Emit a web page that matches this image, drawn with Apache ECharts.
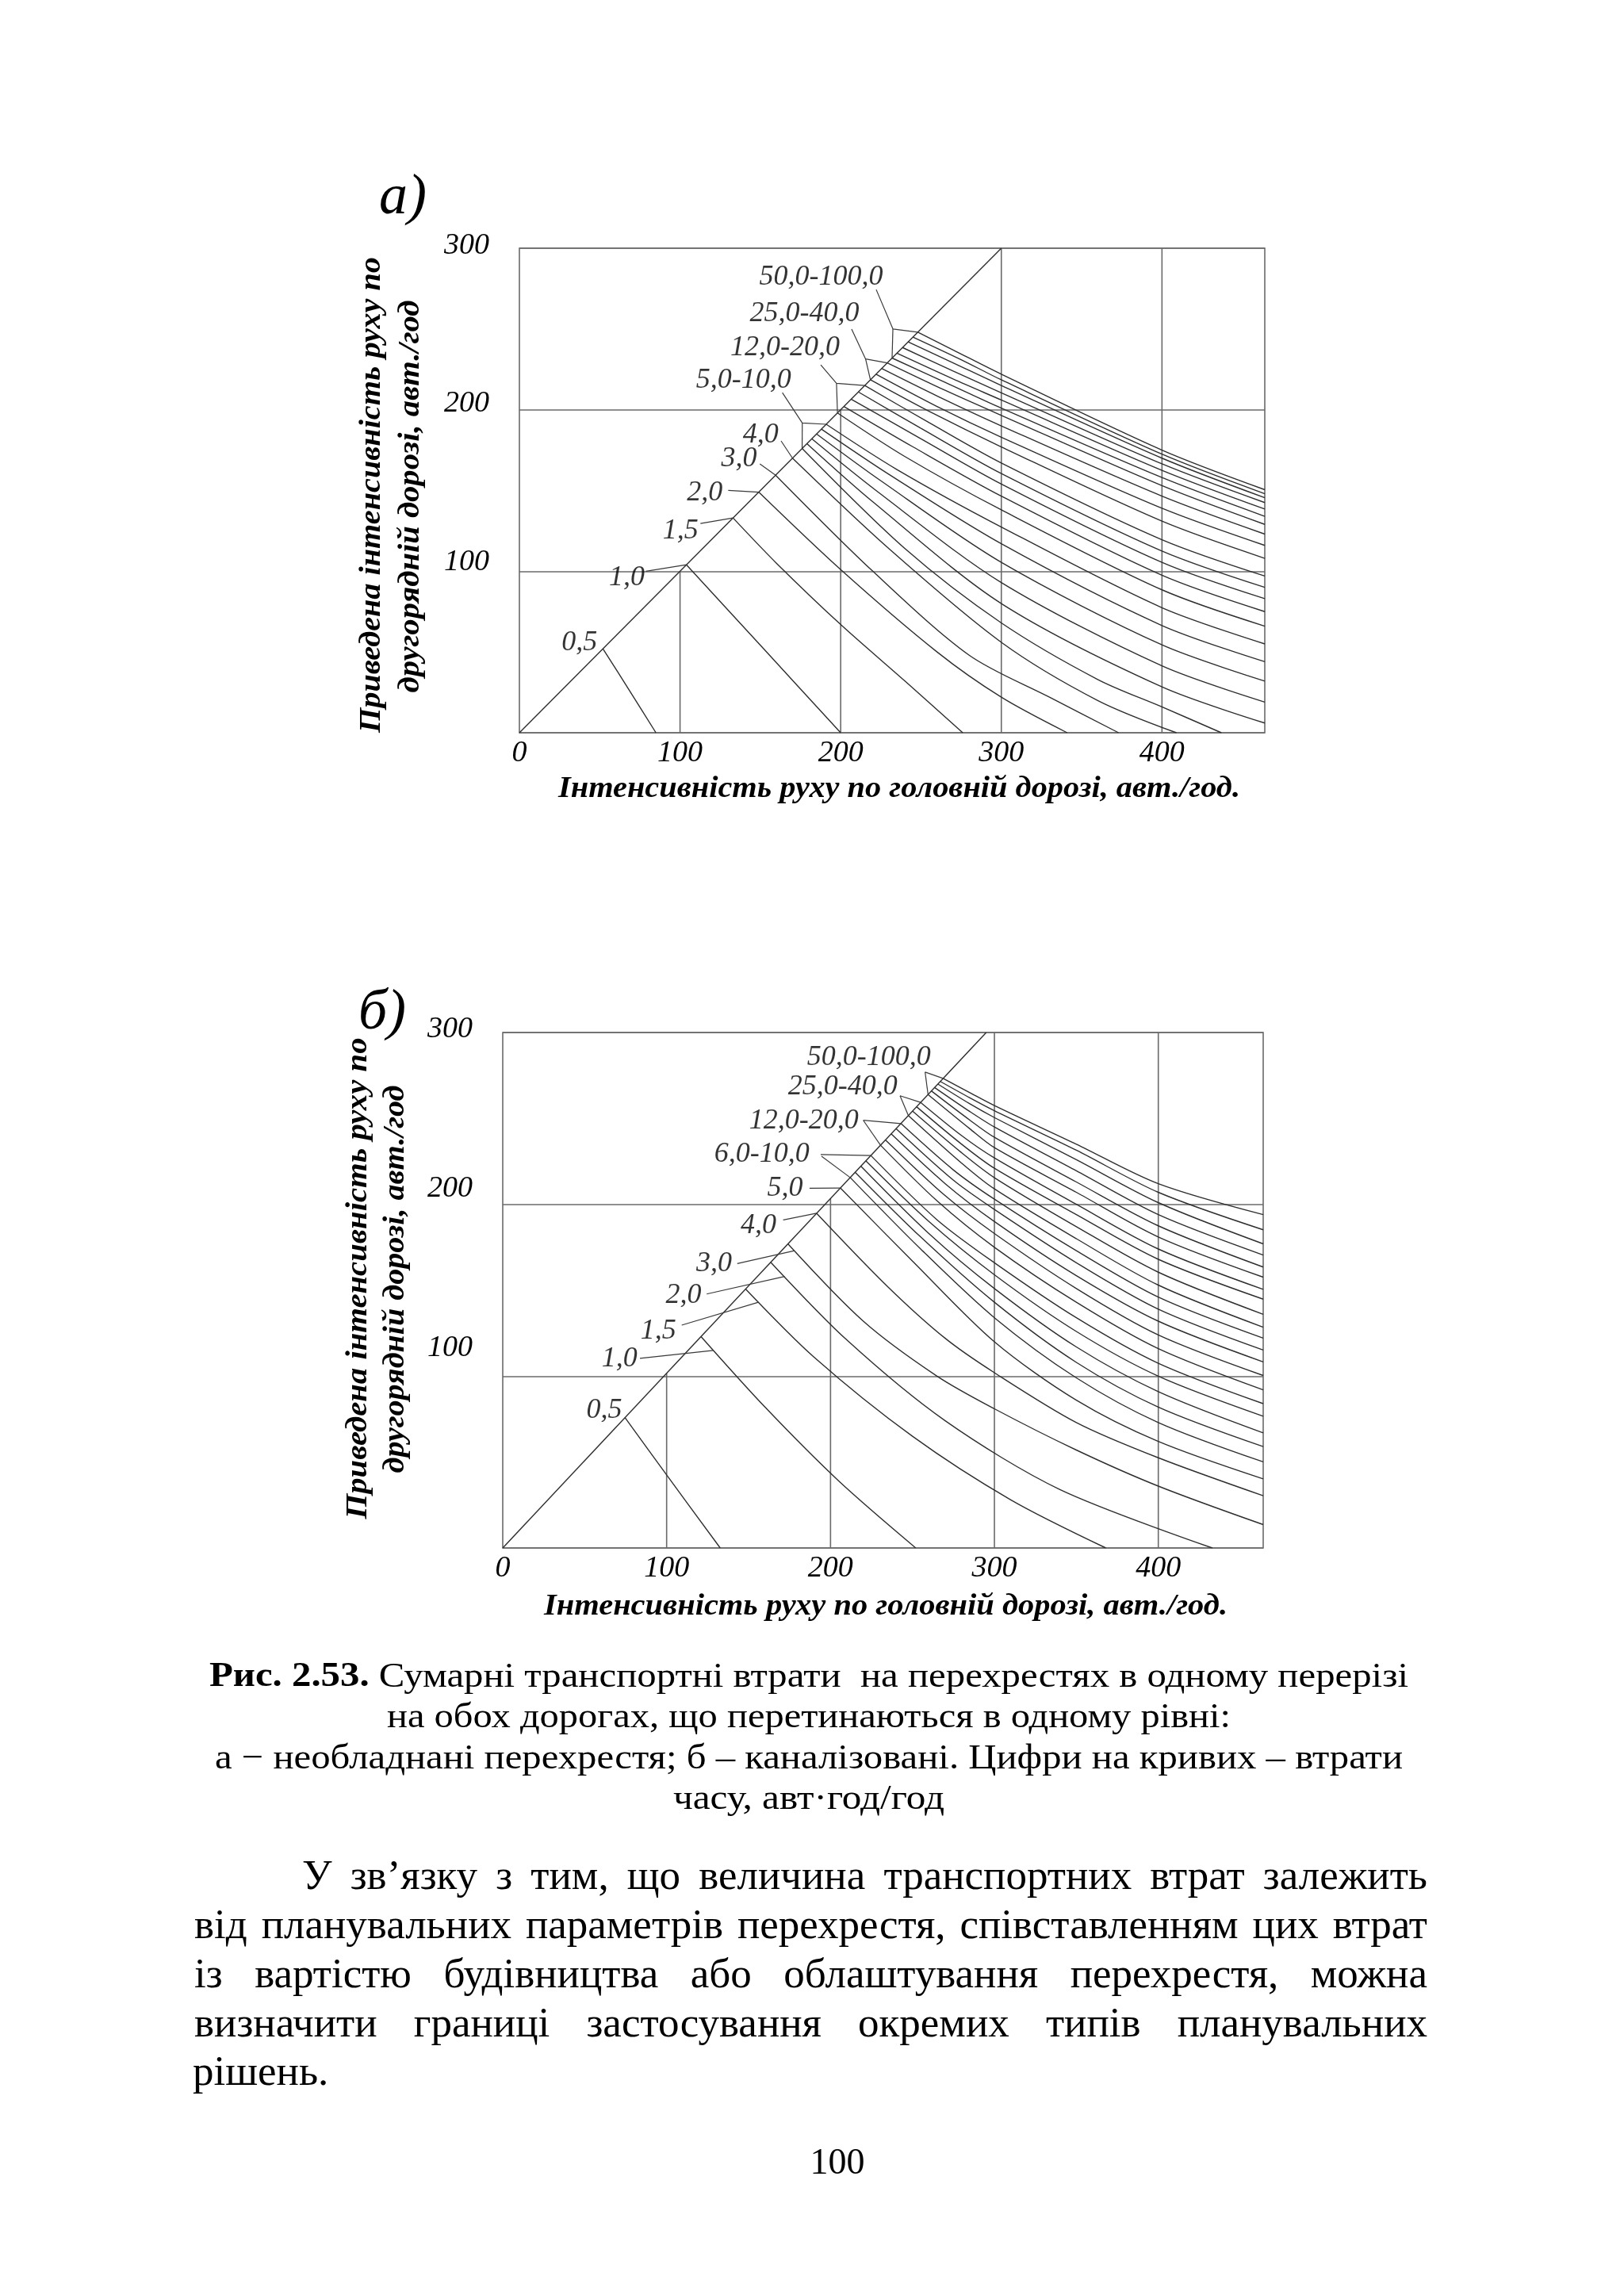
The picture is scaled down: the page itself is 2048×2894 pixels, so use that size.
<!DOCTYPE html>
<html><head><meta charset="utf-8">
<script src="https://cdn.jsdelivr.net/npm/echarts@6/dist/echarts.min.js"></script>
<style>html,body{margin:0;padding:0;background:#fff}#c{width:2048px;height:2894px}</style>
</head><body><div id="c"></div>
<script>
// ---------- data ----------
const xTicks = [0, 100, 200, 300, 400];
const yTicks = [100, 200, 300];
const xMax = 464;
const yMax = 300;

// Chart а (unequipped intersections)
const aCurveNames = ['0,5','1,0','1,5','2,0','3,0','4,0','5,0','6,0','7,0','8,0','9,0','10,0','12,0','14,0','16,0','18,0','20,0','25,0','30,0','35,0','40,0','50,0','60,0','70,0','80,0','90,0','100,0'];
const aCurves = [
 [[52,52],[68,27],[85,0]],
 [[104,104],[152,52],[200,0]],
 [[133,133],[160,105],[200,67],[240,32],[276,0]],
 [[149,149],[200,101],[260,50],[300,22],[341,0]],
 [[159.5,159.5],[220,100],[280,48],[330,22],[373,0]],
 [[170,170],[230,114],[300,56],[360,20],[409,0]],
 [[176,176],[240,114],[300,68],[360,33],[400,16],[437,0]],
 [[179,179],[220,143],[300,80],[400,28.4],[464,6]],
 [[182,182],[222,150],[300,93],[400,41.4],[464,19]],
 [[185,185],[225,156],[300,105.5],[400,54.4],[464,32]],
 [[188,188],[230,160],[300,117],[400,66.4],[464,44]],
 [[191,191],[235,163],[300,127.4],[400,77.4],[464,55]],
 [[198,198],[240,171],[300,138],[400,88.5],[464,66]],
 [[202,202],[245,177],[300,146.5],[400,97.5],[464,75]],
 [[206.5,206.5],[250,182],[300,154],[400,105.5],[464,83]],
 [[211,211],[250,188.5],[300,160.5],[400,112.5],[464,90]],
 [[215,215],[255,192],[300,167],[400,119.5],[464,97]],
 [[218.5,218.5],[255,199],[300,177],[400,131],[464,108]],
 [[222,222],[260,202],[300,183],[400,139],[464,116]],
 [[225.5,225.5],[260,208.5],[300,190],[400,146.5],[464,123]],
 [[229,229],[265,212],[300,196.5],[400,153],[464,129]],
 [[232,232],[265,217],[300,201],[400,158],[464,134]],
 [[235,235],[270,219],[300,206],[400,162.5],[464,138.5]],
 [[238.5,238.5],[270,224],[300,210.5],[400,166.5],[464,142.5]],
 [[242,242],[270,229],[300,215],[400,170],[464,145.5]],
 [[245,245],[275,231],[300,218.5],[400,172.5],[464,148]],
 [[248,248],[270,237],[300,222],[400,175],[464,150.5]]
];
const aDiagonal = [[0,0],[300,300]];
const aVGrid = [[[100,0],[100,100]],[[200,0],[200,200]],[[300,0],[300,300]],[[400,0],[400,300]]];
const aLabels = [
 ['50,0-100,0',227.1,282.1],['25,0-40,0',212.2,259.7],['12,0-20,0',200.2,238.4],['5,0-10,0',169.9,218],
 ['4,0',162,184.4],['3,0',148.6,169.7],['2,0',127.2,148.4],['1,5',112.2,124.8],['1,0',78.7,96],['0,5',49.2,55.6]
];
const aLeaders = [
 [[222.1,274.4],[232.5,250],[248,248]],[[232.5,250],[232,232]],
 [[206.8,249.9],[215.5,231.4],[229,229]],[[215.5,231.4],[218.5,218.5]],
 [[187.6,227.8],[197.4,216.3],[215,215]],[[197.4,216.3],[198,198]],
 [[163.7,210.6],[176.1,191.8],[191,191]],[[176.1,191.8],[176,176]],
 [[162.9,180.7],[170,170]],[[149.7,166.4],[159.5,159.5]],[[130,150.1],[149,149]],
 [[112.7,129.6],[133,133]],[[78.7,100],[104,104]]
];

// Chart б (channelized intersections)
const bCurveNames = ['0,5','1,0','1,5','2,0','3,0','4,0','5,0','6,0','7,0','8,0','9,0','10,0','12,0','14,0','16,0','18,0','20,0','25,0','30,0','35,0','40,0','50,0','60,0','70,0','80,0','90,0','100,0'];
const bCurves = [
 [[74.6,75.9],[100,42.5],[132.7,0]],
 [[121,123],[160,82],[205,39],[252,0]],
 [[148.2,150.7],[190,111],[250,65],[310,28],[368,0]],
 [[163.5,166.3],[210,121],[270,74],[340,34],[433,0]],
 [[174,177],[220,132],[265,100],[300,81],[350,57],[400,36],[464,13.6]],
 [[191.5,194.8],[235,152],[270,122],[300,102],[350,73],[400,52.5],[464,30.4]],
 [[206,209.5],[250,167],[300,120],[350,86],[400,62],[464,40.2]],
 [[212,215.6],[255,174],[300,134],[350,99],[400,73],[464,50.1]],
 [[215,218.7],[255,181],[300,143],[350,108],[400,82],[464,59]],
 [[218.5,222.2],[260,183],[300,151],[350,117],[400,91],[464,67]],
 [[221.5,225.3],[260,190],[300,159],[350,126],[400,100],[464,76.7]],
 [[224.6,228.4],[265,191],[300,166],[350,134],[400,107.5],[464,84]],
 [[230.5,234.4],[265,202],[300,175],[350,143],[400,116],[464,92]],
 [[233.5,237.5],[270,205],[300,183],[350,151],[400,124],[464,100.4]],
 [[237,241],[270,212],[300,190],[350,158.5],[400,132],[464,108.3]],
 [[240,244],[275,214],[300,197],[350,166],[400,139],[464,115.2]],
 [[243,247],[275,220],[300,203],[350,173],[400,146],[464,122.1]],
 [[247.5,251.7],[280,224],[300,209],[350,180],[400,153],[464,128.5]],
 [[250,254.3],[280,230],[300,215.5],[350,187],[400,160.5],[464,136]],
 [[252.5,256.8],[280,235],[300,221],[350,194],[400,168],[464,144.8]],
 [[255,259.3],[280,240],[300,227],[350,200],[400,174],[464,150.5]],
 [[259.5,263.9],[285,244],[300,233],[350,207],[400,181],[464,157.6]],
 [[261.5,266],[285,249],[300,239],[350,213],[400,187.5],[464,163.5]],
 [[263.5,268],[285,254],[300,245],[350,219.5],[400,194],[464,170.5]],
 [[265.5,270],[285,258.5],[300,250.5],[350,226],[400,201],[464,177]],
 [[267,271.5],[285,262],[300,254.5],[350,231.5],[400,207],[464,185.2]],
 [[268.7,273.3],[285,265],[300,257.5],[350,235],[400,212],[464,194]]
];
const bDiagonal = [[0,0],[295,300]];
const bVGrid = [[[100,0],[100,101.7]],[[200,0],[200,203.4]],[[300,0],[300,300]],[[400,0],[400,300]]];
const bLabels = [
 ['50,0-100,0',261.9,285.5],['25,0-40,0',241.6,268.6],['12,0-20,0',217.8,248.6],['6,0-10,0',187.8,229.3],
 ['5,0',183.8,209.4],['4,0',167.7,187.8],['3,0',140.6,165.5],['2,0',121.9,147],['1,5',106.6,126.3],['1,0',82.9,110.1],['0,5',73.5,80]
];
const bLeaders = [
 [[257.7,277],[268.7,273.3]],[[257.7,277],[259.5,263.9]],
 [[242.4,263.2],[255,259.3]],[[242.4,263.2],[247.5,251.7]],
 [[220,248.9],[243,247]],[[220,248.9],[230.5,234.4]],
 [[194,229],[224.6,228.4]],[[194.5,228],[212,215.6]],
 [[187.2,209.4],[206,209.5]],[[171.1,190.9],[191.5,194.8]],
 [[143.1,165.5],[178,173]],[[124.4,147.8],[172,158]],
 [[109.2,129.7],[156,143]],[[83.7,110.4],[128.5,115]]
];

// texts
const xTitle = 'Інтенсивність руху по головній дорозі, авт./год.';
const yTitle1 = 'Приведена інтенсивність руху по';
const yTitle2 = 'другорядній дорозі, авт./год';
const panelA = 'а)';
const panelB = 'б)';
const captionBold = 'Рис. 2.53.';
const captionLines = [
  ' Сумарні транспортні втрати  на перехрестях в одному перерізі',
  'на обох дорогах, що перетинаються в одному рівні:',
  'а − необладнані перехрестя; б – каналізовані. Цифри на кривих – втрати',
  'часу, авт·год/год'
];
const paragraphLines = [
  'У зв’язку з тим, що величина транспортних втрат залежить',
  'від планувальних параметрів перехрестя, співставленням цих втрат',
  'із вартістю будівництва або облаштування перехрестя, можна',
  'визначити границі застосування окремих типів планувальних',
  'рішень.'
];
const pageNumber = '100';

// ---------- styling / layout ----------
const FONT = '"Liberation Serif", "Times New Roman", serif';
const CURVE_COLOR = '#2e2e2e';
const GRID_COLOR = '#6a6a6a';
const TICK_FONT = 38;
const yLiftA = {100: 11, 200: 8, 300: 3};
const yLiftB = {100: 35, 200: 20, 300: 4};

const chart = echarts.init(document.getElementById('c'), null, {renderer: 'canvas', width: 2048, height: 2894});

function mkX(gi) {
  return {
    type: 'value', gridIndex: gi, min: 0, max: xMax, interval: 100,
    axisLine: {show: false}, axisTick: {show: false}, splitLine: {show: false},
    axisLabel: {
      margin: 7, fontFamily: FONT, fontStyle: 'italic', fontSize: TICK_FONT, color: '#000',
      formatter: v => (xTicks.indexOf(v) >= 0 ? String(v) : '')
    }
  };
}
function mkY(gi, lift) {
  const rich = {};
  yTicks.forEach(v => {
    rich['s' + v] = {fontFamily: FONT, fontStyle: 'italic', fontSize: TICK_FONT, color: '#000', padding: [0, 0, 2 * lift[v], 0]};
  });
  return {
    type: 'value', gridIndex: gi, min: 0, max: yMax, interval: 100,
    axisLine: {show: false}, axisTick: {show: false},
    splitLine: {show: true, lineStyle: {color: GRID_COLOR, width: 1.6}},
    axisLabel: {
      margin: 38, fontFamily: FONT, fontStyle: 'italic', fontSize: TICK_FONT, color: '#000',
      formatter: v => (yTicks.indexOf(v) >= 0 ? '{s' + v + '|' + v + '}' : ''),
      rich: rich
    }
  };
}
function lineSeries(data, gi, color, width, smooth, z) {
  return {
    type: 'line', xAxisIndex: gi, yAxisIndex: gi, data: data, showSymbol: false, symbol: 'none',
    smooth: smooth,
    lineStyle: {color: color, width: width}, silent: true, animation: false, z: z
  };
}
function buildChartSeries(gi, curves, diag, vgrid, leaders, labels) {
  const s = [];
  vgrid.forEach(g => s.push(lineSeries(g, gi, GRID_COLOR, 1.6, false, 1)));
  s.push(lineSeries(diag, gi, CURVE_COLOR, 1.4, false, 3));
  curves.forEach(c => s.push(lineSeries(c, gi, CURVE_COLOR, 1.4, 0.3, 3)));
  leaders.forEach(l => s.push(lineSeries(l, gi, '#3a3a3a', 1.2, false, 4)));
  s.push({
    type: 'scatter', xAxisIndex: gi, yAxisIndex: gi, symbolSize: 1, silent: true, animation: false, z: 5,
    itemStyle: {color: 'rgba(0,0,0,0)'},
    data: labels.map(l => ({name: l[0], value: [l[1], l[2]]})),
    label: {show: true, position: 'left', distance: 1, formatter: '{b}', fontFamily: FONT, fontStyle: 'italic', fontSize: 36, color: '#000'}
  });
  return s;
}

// ---------- text helpers ----------
const mctx = document.createElement('canvas').getContext('2d');
function tw(text, font) { mctx.font = font; return mctx.measureText(text).width; }
function textEl(text, x, y, font, align, sx, rot) {
  return {
    type: 'text', x: x, y: y, rotation: rot || 0, scaleX: sx || 1, scaleY: 1, silent: true, z: 100,
    style: {text: text, font: font, fill: '#000', align: align, verticalAlign: 'middle', textAlign: align, textVerticalAlign: 'middle'}
  };
}
function fitText(text, font, cx, cy, width, rot) {
  return textEl(text, cx, cy, font, 'center', width / tw(text, font), rot);
}

const g = [];
const titleFont = `italic bold 38px ${FONT}`;
const panelFont = `italic 72px ${FONT}`;
// chart а texts
g.push(textEl(panelA, 508, 250, panelFont, 'center'));
g.push(fitText(yTitle1, titleFont, 469, 624, 600, Math.PI / 2));
g.push(fitText(yTitle2, titleFont, 518, 626, 495, Math.PI / 2));
g.push(fitText(xTitle, titleFont, 1134, 995, 860));
// chart б texts
g.push(textEl(panelB, 482, 1278, panelFont, 'center'));
g.push(fitText(yTitle1, titleFont, 452, 1612, 607, Math.PI / 2));
g.push(fitText(yTitle2, titleFont, 499, 1613, 489, Math.PI / 2));
g.push(fitText(xTitle, titleFont, 1117, 2026, 862));

// caption
const capFont = `44px ${FONT}`;
const capBoldFont = `bold 44px ${FONT}`;
(function () {
  const w1 = tw(captionBold, capBoldFont), w2 = tw(captionLines[0], capFont);
  const target = 1512, s = target / (w1 + w2), x0 = 1020 - target / 2, y = 2115;
  g.push(textEl(captionBold, x0, y, capBoldFont, 'left', s));
  g.push(textEl(captionLines[0], x0 + w1 * s, y, capFont, 'left', s));
})();
const capRest = [[captionLines[1], 2166, 1064], [captionLines[2], 2218, 1498], [captionLines[3], 2269, 342]];
capRest.forEach(c => g.push(fitText(c[0], capFont, 1020, c[1], c[2])));

// paragraph (justified)
const paraFont = `53px ${FONT}`;
const paraLayout = [[381, 1800, 2368, true], [245, 1800, 2430, true], [245, 1800, 2492, true], [245, 1800, 2554, true], [243, 0, 2615, false]];
paragraphLines.forEach((t, i) => {
  const L = paraLayout[i];
  if (!L[3]) { g.push(textEl(t, L[0], L[2], paraFont, 'left')); return; }
  const words = t.split(' ');
  const ws = words.map(w => tw(w, paraFont));
  let sum = ws.reduce((a, b) => a + b, 0);
  let k = 1;
  const minGap = 12;
  if (sum + minGap * (words.length - 1) > L[1] - L[0]) k = (L[1] - L[0] - minGap * (words.length - 1)) / sum;
  const gap = (L[1] - L[0] - sum * k) / (words.length - 1);
  let x = L[0];
  words.forEach((w, j) => { g.push(textEl(w, x, L[2], paraFont, 'left', k)); x += ws[j] * k + gap; });
});
g.push(textEl(pageNumber, 1056, 2729, `46px ${FONT}`, 'center'));

const option = {
  backgroundColor: '#fff',
  animation: false,
  grid: [
    {left: 655, top: 313, width: 940, height: 611, show: true, borderColor: GRID_COLOR, borderWidth: 1.6, backgroundColor: 'transparent', containLabel: false, outerBoundsMode: 'none'},
    {left: 634, top: 1302, width: 959, height: 650, show: true, borderColor: GRID_COLOR, borderWidth: 1.6, backgroundColor: 'transparent', containLabel: false, outerBoundsMode: 'none'}
  ],
  xAxis: [mkX(0), mkX(1)],
  yAxis: [mkY(0, yLiftA), mkY(1, yLiftB)],
  series: [].concat(
    buildChartSeries(0, aCurves, aDiagonal, aVGrid, aLeaders, aLabels),
    buildChartSeries(1, bCurves, bDiagonal, bVGrid, bLeaders, bLabels)
  ),
  graphic: {elements: g}
};
chart.setOption(option);
</script></body></html>
